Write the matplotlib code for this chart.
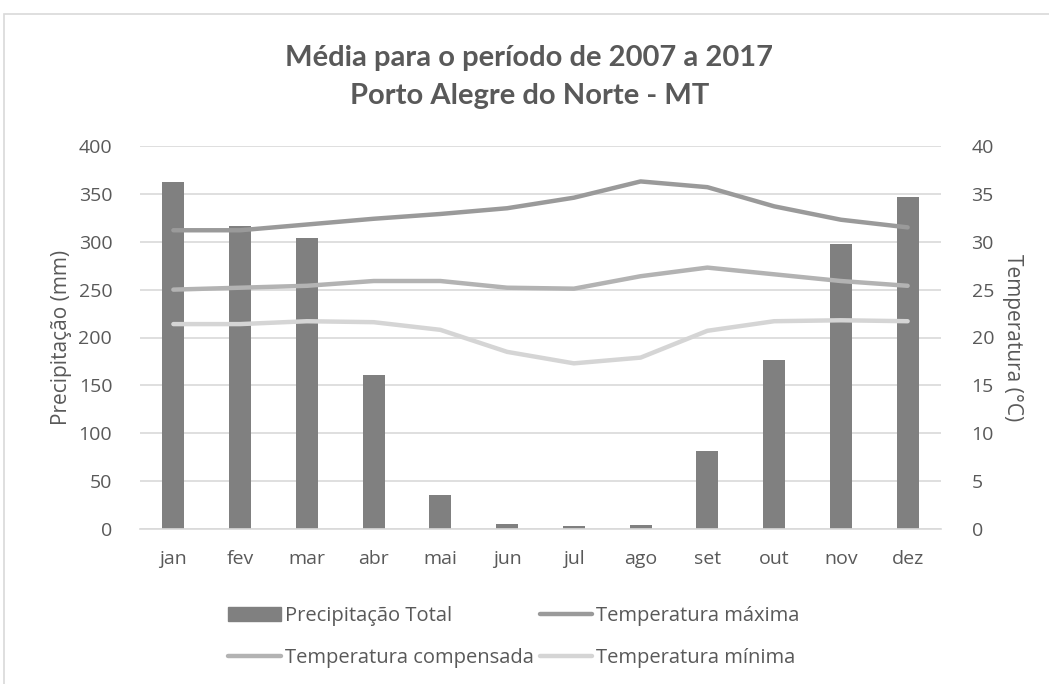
import matplotlib
matplotlib.use("Agg")
import matplotlib.pyplot as plt
from matplotlib.patches import Rectangle
from matplotlib.lines import Line2D
import numpy as np

months = ["jan", "fev", "mar", "abr", "mai", "jun", "jul", "ago", "set", "out", "nov", "dez"]
precip = [362, 316, 304, 161, 35, 5.6, 3, 4.6, 81, 176, 298, 347]
t_max = [31.2, 31.2, 31.8, 32.4, 32.9, 33.5, 34.6, 36.3, 35.7, 33.7, 32.3, 31.5]
t_comp = [25.0, 25.2, 25.4, 25.9, 25.9, 25.2, 25.1, 26.4, 27.3, 26.6, 25.9, 25.4]
t_min = [21.4, 21.4, 21.7, 21.6, 20.8, 18.5, 17.3, 17.9, 20.7, 21.7, 21.8, 21.7]

title = "Média para o período de 2007 a 2017\nPorto Alegre do Norte - MT"
ylabel_left = "Precipitação (mm)"
ylabel_right = "Temperatura (°C)"
labels = ["Precipitação Total", "Temperatura máxima", "Temperatura compensada", "Temperatura mínima"]

plt.rcParams['font.family'] = ['Open Sans', 'DejaVu Sans']
txt = "#595959"
c_bar = "#808080"
c_max = "#9a9a9a"
c_comp = "#b3b3b3"
c_min = "#d5d5d5"
grid_c = "#d9d9d9"
fs = 14

W, H = 1049, 684
fig = plt.figure(figsize=(W / 100, H / 100), dpi=100)

# chart border
fig.patches.append(Rectangle((4 / W, 0 - 0.01), 1.1, (H - 14) / H + 0.01,
                             transform=fig.transFigure, fill=False,
                             edgecolor="#d9d9d9", linewidth=1.2))

ax = fig.add_axes([140 / W, 1 - 529 / H, (941 - 140) / W, (529 - 146) / H])
x = np.arange(len(months))
ax.bar(x, precip, width=0.33, color=c_bar, zorder=2)
ax.set_xlim(-0.5, 11.5)
ax.set_ylim(0, 400)
ax.set_yticks(range(0, 401, 50))
ax.set_xticks(x)
ax.set_xticklabels(months)
ax.grid(axis="y", color=grid_c, linewidth=1.2, zorder=0)
ax.set_axisbelow(True)
for s in ["top", "left", "right"]:
    ax.spines[s].set_visible(False)
ax.spines["bottom"].set_color(grid_c)
ax.spines["bottom"].set_linewidth(1.2)
ax.tick_params(length=0, labelsize=fs, colors=txt, pad=20)
ax.tick_params(axis="x", pad=15)
ax.set_ylabel(ylabel_left, fontsize=fs + 1, color=txt, labelpad=5)

ax2 = ax.twinx()
ax2.plot(x, t_max, color=c_max, linewidth=3.2, solid_capstyle="round", zorder=3)
ax2.plot(x, t_comp, color=c_comp, linewidth=3.2, solid_capstyle="round", zorder=3)
ax2.plot(x, t_min, color=c_min, linewidth=3.2, solid_capstyle="round", zorder=3)
ax2.set_ylim(0, 40)
ax2.set_yticks(range(0, 41, 5))
for s in ["top", "left", "right", "bottom"]:
    ax2.spines[s].set_visible(False)
ax2.tick_params(length=0, labelsize=fs, colors=txt, pad=22)
ax2.set_ylabel(ylabel_right, fontsize=fs + 1, color=txt, rotation=-90, labelpad=21)

fig.text(0.5045, 1 - 77 / H, title, ha="center", va="center", fontsize=21,
         fontweight="bold", color=txt, linespacing=1.55, family=["Lato", "DejaVu Sans"])

h_bar = Rectangle((0, 0), 1, 1, color=c_bar)
h_max = Line2D([0], [0], color=c_max, linewidth=3.2, solid_capstyle="round")
h_comp = Line2D([0], [0], color=c_comp, linewidth=3.2, solid_capstyle="round")
h_min = Line2D([0], [0], color=c_min, linewidth=3.2, solid_capstyle="round")
# matplotlib fills legend columns first: reorder so rows read like the reference
handles = [h_bar, h_comp, h_max, h_min]
leg_labels = [labels[0], labels[2], labels[1], labels[3]]
leg = fig.legend(handles, leg_labels, ncol=2, loc="center", bbox_to_anchor=(0.49, 1 - 637 / H),
                 frameon=False, fontsize=fs + 0.5, handlelength=2.6, handletextpad=0.2,
                 columnspacing=0.3, labelspacing=1.1)
for t in leg.get_texts():
    t.set_color(txt)

fig.savefig("out.png", dpi=100)
